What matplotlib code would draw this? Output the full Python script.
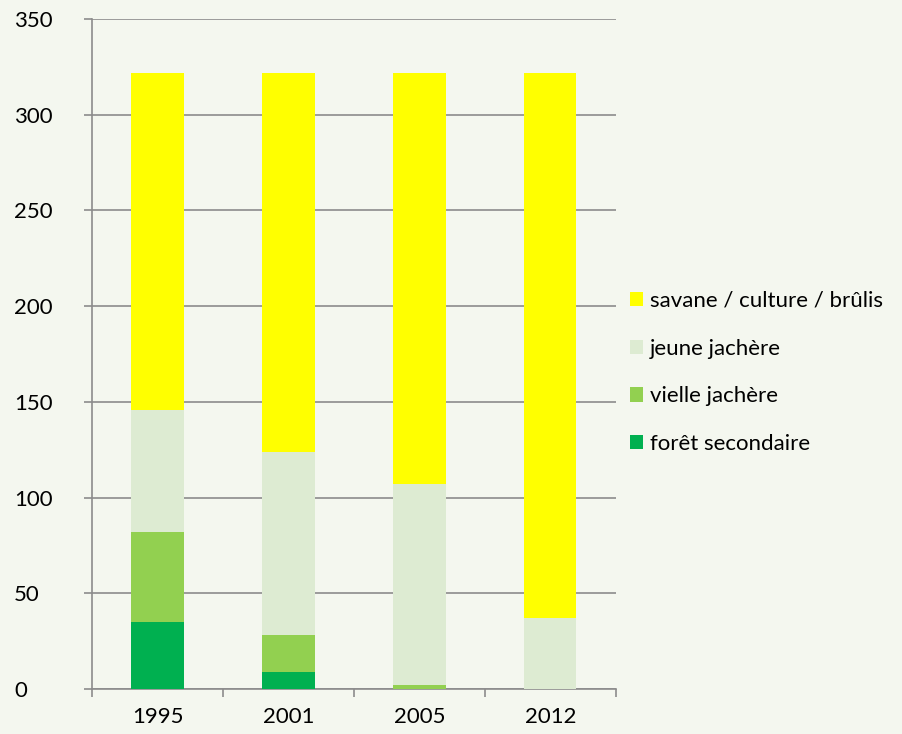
import matplotlib.pyplot as plt
from matplotlib.patches import Patch
import numpy as np

years = ['1995', '2001', '2005', '2012']
foret = [35, 9, 0, 0]
vielle = [47, 19, 2, 0]
jeune = [64, 96, 105, 37]
savane = [176, 198, 215, 285]

series = [
    ('forêt secondaire', foret, '#00B050'),
    ('vielle jachère', vielle, '#92D050'),
    ('jeune jachère', jeune, '#DDEBD2'),
    ('savane / culture / brûlis', savane, '#FFFF00'),
]

bg = '#F4F7EF'
plt.rcParams['font.family'] = ['Lato', 'DejaVu Sans']

fig = plt.figure(figsize=(9.03, 7.34), dpi=100, facecolor=bg)
ax = fig.add_axes([0.1019, 0.0613, 0.58, 0.9127])
ax.set_facecolor(bg)

x = np.arange(len(years))
bottom = np.zeros(len(years))
for name, vals, col in series:
    ax.bar(x, vals, width=0.4, bottom=bottom, color=col, zorder=3)
    bottom += np.array(vals)

ax.set_xlim(-0.5, 3.5)
ax.set_ylim(0, 350)
ax.set_yticks(range(0, 351, 50))
ax.yaxis.grid(True, color='#8C8C8C', linewidth=1.2, zorder=0)
ax.set_xticks(x)
ax.set_xticklabels(years)
ax.set_xticks(np.arange(-0.5, 4, 1), minor=True)
ax.tick_params(axis='x', which='major', length=0, pad=13, labelsize=16)
ax.tick_params(axis='x', which='minor', length=6, color='#8C8C8C', width=1.2)
ax.tick_params(axis='y', length=6, color='#8C8C8C', width=1.2, labelsize=16, pad=50)
for lab in ax.get_yticklabels():
    lab.set_horizontalalignment('left')

for s in ['top', 'right']:
    ax.spines[s].set_visible(False)
for s in ['left', 'bottom']:
    ax.spines[s].set_color('#8C8C8C')
    ax.spines[s].set_linewidth(1.2)

handles = [Patch(facecolor=col, label=name) for name, vals, col in series[::-1]]
fig.legend(handles=handles, loc='upper left', bbox_to_anchor=(0.688, 0.616),
           frameon=False, fontsize=16, handlelength=0.6, handleheight=0.6,
           handletextpad=0.3, labelspacing=1.25, borderaxespad=0)

fig.savefig('out.png', dpi=100, facecolor=bg)
